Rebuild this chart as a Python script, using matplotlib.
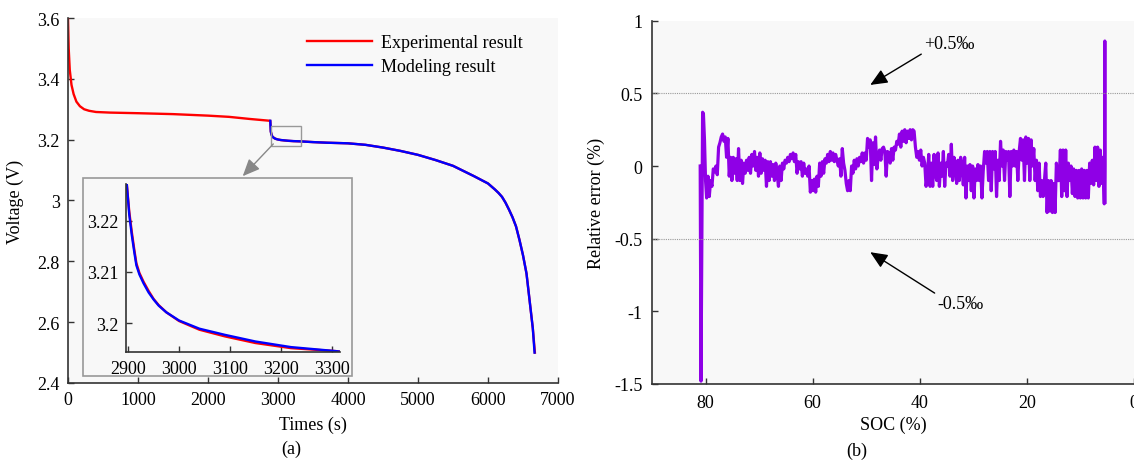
import matplotlib
matplotlib.use('Agg')
import matplotlib.pyplot as plt
import numpy as np
from matplotlib.patches import Rectangle
from matplotlib.ticker import FormatStrFormatter

plt.rcParams['font.family'] = ['Liberation Serif', 'DejaVu Serif']
plt.rcParams['font.size'] = 13

# ---- (a) discharge voltage ----
t_exp = [0, 10, 25, 50, 80, 120, 170, 230, 300, 400, 600, 1000, 1500, 2000,
         2300, 2600, 2890, 2897, 2902, 2907, 2912, 2916, 2922, 2930, 2940,
         2950, 2960, 2975, 3000, 3040, 3090, 3150, 3220, 3310, 3500, 3700,
         4000, 4250, 4500, 4750, 5000, 5250, 5500, 5650, 5800, 5900, 6000,
         6050, 6100, 6150, 6200, 6250, 6300, 6350, 6400, 6450, 6500, 6550,
         6580, 6620, 6640, 6670]
v_exp = [3.60, 3.50, 3.43, 3.38, 3.35, 3.325, 3.31, 3.30, 3.295, 3.291, 3.289,
         3.287, 3.284, 3.279, 3.275, 3.268, 3.262, 3.2273, 3.2218, 3.2178,
         3.2143, 3.2117, 3.2098, 3.2081, 3.2063, 3.2047, 3.2035, 3.2021,
         3.2004, 3.1987, 3.1974, 3.1961, 3.1951, 3.1945, 3.192, 3.190, 3.188,
         3.183, 3.174, 3.163, 3.150, 3.133, 3.114, 3.097, 3.080, 3.068, 3.056,
         3.046, 3.036, 3.025, 3.012, 2.993, 2.97, 2.945, 2.915, 2.87, 2.82,
         2.76, 2.70, 2.62, 2.58, 2.50]

t_mod = [2890, 2897, 2902, 2907, 2912, 2916, 2922, 2930, 2940, 2950, 2960,
         2975, 3000, 3040, 3090, 3150, 3220, 3310, 3500, 3700, 4000, 4250,
         4500, 4750, 5000, 5250, 5500, 5650, 5800, 5900, 6000, 6050, 6100,
         6150, 6200, 6250, 6300, 6350, 6400, 6450, 6500, 6550, 6580, 6620,
         6640, 6665]
v_mod = [3.262, 3.2273, 3.2212, 3.2172, 3.2138, 3.2113, 3.2095, 3.2078,
         3.2060, 3.2046, 3.2034, 3.2021, 3.2005, 3.1989, 3.1977, 3.1964,
         3.1953, 3.1945, 3.192, 3.190, 3.188, 3.183, 3.174, 3.163, 3.150,
         3.133, 3.114, 3.097, 3.080, 3.068, 3.056, 3.046, 3.036, 3.025, 3.012,
         2.993, 2.97, 2.945, 2.915, 2.87, 2.82, 2.76, 2.70, 2.62, 2.58, 2.50]

# ---- (b) relative error vs SOC ----
soc_head = [81.0, 80.85, 80.55, 80.4, 80.2, 80.0]
err_head = [0.0, -1.48, 0.37, 0.36, 0.18, -0.10]
err_body = [
    -0.22, -0.07, -0.21, -0.10, -0.14, -0.02, -0.04, 0.00, -0.06, 0.13, 0.16,
    0.20, 0.22, 0.17, 0.20, 0.06, 0.19, -0.07, 0.06, -0.10, 0.06, -0.05, 0.05,
    -0.10, 0.12, -0.10, 0.04, -0.12, 0.02, -0.05, 0.04, -0.03, 0.06, -0.05,
    0.08, 0.00, 0.10, -0.03, 0.06, -0.07, 0.09, -0.05, 0.05, -0.03, 0.04,
    -0.14, 0.03, -0.10, 0.03, -0.07, 0.01, -0.10, 0.02, -0.05, -0.14, 0.00,
    -0.10, 0.02, -0.02, 0.04, 0.02, 0.06, 0.03, 0.08, 0.05, 0.09, 0.03, 0.08,
    -0.05, 0.03, -0.02, 0.03, -0.07, 0.02, -0.05, -0.02, -0.07, 0.00, -0.18,
    -0.10, -0.17, -0.09, -0.18, -0.07, -0.14, 0.02, -0.07, 0.03, -0.05, 0.05,
    0.02, 0.08, 0.03, 0.10, 0.04, 0.09, 0.03, 0.08, 0.04, 0.00, 0.05, -0.07,
    0.12, 0.02, -0.03, -0.12, -0.17, -0.10, -0.17, 0.00, -0.05, 0.04, -0.02,
    0.05, 0.00, 0.06, 0.03, 0.09, 0.02, 0.09, 0.04, 0.19, 0.13, 0.18, -0.10,
    0.16, 0.01, 0.20, -0.02, 0.06, 0.11, 0.04, 0.12, 0.13, 0.10, -0.07, 0.10,
    0.09, 0.02, 0.12, 0.04, 0.13, 0.11, 0.17, 0.15, 0.22, 0.13, 0.24, 0.17,
    0.25, 0.16, 0.24, 0.19, 0.25, 0.18, 0.25, 0.24, 0.13, 0.06, 0.10, 0.04,
    0.11, 0.00, 0.06, 0.02, -0.14, -0.07, 0.08, -0.14, 0.02, -0.14, 0.08,
    -0.05, -0.10, 0.09, -0.14, 0.02, -0.07, 0.10, -0.14, 0.02, 0.00, 0.08,
    -0.07, 0.15, -0.10, 0.06, 0.02, -0.12, 0.04, -0.10, 0.06, 0.01, -0.13,
    0.06, -0.22, 0.00, -0.10, 0.01, -0.17, 0.00, -0.22, -0.02, -0.10, 0.01,
    -0.10, 0.00, -0.22, -0.03, 0.10, 0.02, 0.10, -0.10, 0.10, -0.17, 0.10,
    -0.02, 0.10, -0.21, 0.04, -0.10, 0.17, 0.00, 0.11, -0.10, 0.10, 0.04,
    0.10, -0.21, 0.10, 0.00, 0.11, 0.00, 0.10, -0.10, 0.10, 0.19, 0.04, 0.18,
    -0.10, 0.20, 0.02, 0.19, -0.10, 0.18, 0.00, 0.12, -0.10, 0.04, -0.17,
    0.02, -0.21, -0.10, -0.21, -0.10, 0.02, -0.32, -0.10, -0.31, -0.10, -0.32,
    -0.12, -0.32, 0.02, -0.10, -0.10, 0.11, -0.21, 0.11, -0.17, 0.11, -0.21,
    0.02, -0.10, 0.00, -0.19, -0.02, -0.21, -0.03, -0.22, -0.03, -0.22, -0.02,
    -0.22, -0.03, -0.22, -0.03, -0.22, 0.02, -0.12, 0.04, -0.13, 0.13, -0.10,
    0.13, -0.14, 0.11, -0.12, 0.06, -0.26]
soc_body = np.linspace(79.8, 5.55, len(err_body))
soc_tail = [5.5, 5.45, 5.4]
err_tail = [0.0, 0.86, -0.25]

soc = np.concatenate([soc_head, soc_body, soc_tail])
err = np.concatenate([err_head, err_body, err_tail])

W, H = 1134, 464
fig = plt.figure(figsize=(W / 100, H / 100), dpi=100)
bg = '#f8f8f8'
spine_c = '#333333'


def style(ax, pad):
    ax.set_facecolor(bg)
    for s in ['top', 'right']:
        ax.spines[s].set_visible(False)
    for s in ['left', 'bottom']:
        ax.spines[s].set_color(spine_c)
        ax.spines[s].set_linewidth(1.2)
    ax.tick_params(direction='in', length=4, width=1, color=spine_c, pad=pad)


# main axes (a)
ax1 = fig.add_axes([68 / W, 1 - 384 / H, 490 / W, 365 / H])
style(ax1, 6)
ax1.plot(t_exp, v_exp, color='#ff0000', lw=1.7, label='Experimental result')
ax1.plot(t_mod, v_mod, color='#0000ff', lw=1.7, label='Modeling result')
ax1.set_xlim(0, 7000)
ax1.set_ylim(2.4, 3.6)
ax1.set_xticks(np.arange(0, 7001, 1000))
ax1.set_yticks(np.arange(2.4, 3.61, 0.2))
ax1.yaxis.set_major_formatter(FormatStrFormatter('%g'))
ax1.set_xlabel('Times (s)')
ax1.set_ylabel('Voltage (V)')
ax1.xaxis.set_label_coords(0.5, -0.09)
ax1.yaxis.set_label_coords(-0.09, 0.5)
ax1.legend(loc='upper left', bbox_to_anchor=(307 / W, 1 - 35 / H),
           bbox_transform=fig.transFigure, frameon=False, handlelength=3.6,
           handletextpad=0.5, labelspacing=0.4, borderpad=0, borderaxespad=0)

# zoom marker and arrow
ax1.add_patch(Rectangle((2895, 3.178), 430, 0.067, fill=False,
                        edgecolor='#999999', lw=1, zorder=3))
ax1.annotate('', xy=(2496, 3.080), xytext=(2933, 3.186),
             arrowprops=dict(arrowstyle='-|>,head_length=0.8,head_width=0.35',
                             color='#888888', lw=1, shrinkA=0, shrinkB=0))

# inset frame
frame = Rectangle((82.7 / W, 1 - 376.7 / H), 269.6 / W, 197.4 / H,
                  transform=fig.transFigure, facecolor=bg,
                  edgecolor='#999999', lw=1.2, zorder=1)
fig.add_artist(frame)

axi = fig.add_axes([125.7 / W, 1 - 352.7 / H, 214 / W, 167.7 / H], zorder=2)
style(axi, 5)
axi.set_facecolor('none')
axi.plot(t_exp, v_exp, color='#ff0000', lw=1.7)
axi.plot(t_mod, v_mod, color='#0000ff', lw=1.7)
axi.set_xlim(2895, 3316)
axi.set_ylim(3.1944, 3.2272)
axi.set_xticks([2900, 3000, 3100, 3200, 3300])
axi.set_yticks([3.2, 3.21, 3.22])
axi.yaxis.set_major_formatter(FormatStrFormatter('%g'))
axi.tick_params(axis='x', pad=6)

fig.text(291 / W, 1 - 449 / H, '(a)', ha='center', va='center')

# (b) relative error
ax2 = fig.add_axes([652 / W, 1 - 385 / H, 482 / W, 363.3 / H])
style(ax2, 7)
ax2.plot(soc, err, color='#8f00e6', lw=2.3)
ax2.axhline(0.5, color='#999999', lw=0.8, ls=(0, (1, 1)))
ax2.axhline(-0.5, color='#999999', lw=0.8, ls=(0, (1, 1)))
ax2.set_xlim(90, 0)
ax2.set_ylim(-1.5, 1)
ax2.set_xticks([80, 60, 40, 20, 0])
ax2.set_yticks([-1.5, -1, -0.5, 0, 0.5, 1])
ax2.yaxis.set_major_formatter(FormatStrFormatter('%g'))
ax2.set_xlabel('SOC (%)')
ax2.set_ylabel('Relative error (%)')
ax2.xaxis.set_label_coords(0.5, -0.088)
ax2.yaxis.set_label_coords(-0.097, 0.5)

arrow_k = dict(arrowstyle='-|>,head_length=0.8,head_width=0.35', color='k',
               lw=1, shrinkA=0, shrinkB=0)
ax2.annotate('+0.5\u2030', xy=(49.25, 0.558), xytext=(34.5, 0.84),
             ha='center', va='center',
             arrowprops=dict(arrow_k, relpos=(0, 0)))
ax2.annotate('-0.5\u2030', xy=(49.25, -0.593), xytext=(32.4, -0.945),
             ha='center', va='center',
             arrowprops=dict(arrow_k, relpos=(0, 1)))

fig.text(857 / W, 1 - 451 / H, '(b)', ha='center', va='center')

fig.savefig('out.png', dpi=100)
